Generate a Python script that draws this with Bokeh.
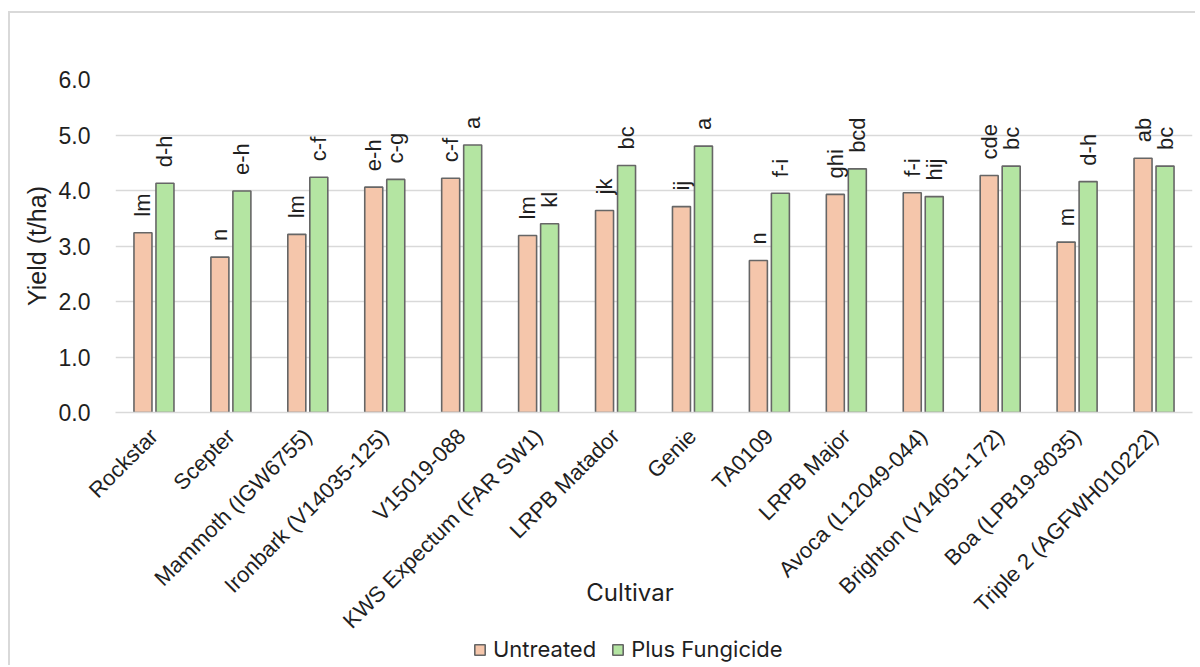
from bokeh.plotting import figure
from bokeh.layouts import column
from bokeh.models import ColumnDataSource, FactorRange, Range1d, LabelSet, Legend, LegendItem, FixedTicker, CustomJSTickFormatter
from bokeh.transform import dodge
from bokeh.core.properties import value
from bokeh.embed import file_html
from bokeh.resources import INLINE
from math import pi

cultivars = ["Rockstar", "Scepter", "Mammoth (IGW6755)", "Ironbark (V14035-125)", "V15019-088",
             "KWS Expectum (FAR SW1)", "LRPB Matador", "Genie", "TA0109", "LRPB Major",
             "Avoca (L12049-044)", "Brighton (V14051-172)", "Boa (LPB19-8035)", "Triple 2 (AGFWH010222)"]
untreated = [3.24, 2.80, 3.21, 4.06, 4.22, 3.19, 3.64, 3.71, 2.74, 3.93, 3.96, 4.27, 3.07, 4.58]
fungicide = [4.13, 3.99, 4.24, 4.20, 4.82, 3.40, 4.45, 4.80, 3.95, 4.39, 3.89, 4.44, 4.16, 4.44]
untreated_letters = ["lm", "n", "lm", "e-h", "c-f", "lm", "jk", "ij", "n", "ghi", "f-i", "cde", "m", "ab"]
fungicide_letters = ["d-h", "e-h", "c-f", "c-g", "a", "kl", "bc", "a", "f-i", "bcd", "hij", "bc", "d-h", "bc"]
series_names = ["Untreated", "Plus Fungicide"]
y_ticks = [0, 1, 2, 3, 4, 5, 6]

src = ColumnDataSource(dict(cultivar=cultivars, untreated=untreated, fungicide=fungicide,
                            ul=untreated_letters, fl=fungicide_letters))

FONT = "Liberation Sans"
TXT = "#1f1f1f"
ORANGE = "#F5C6AB"
GREEN = "#B4E5A2"
EDGE = "#666666"
BORDER = "2px solid #d9d9d9"

p = figure(x_range=FactorRange(*cultivars), y_range=Range1d(0, 6),
           width=1187, height=624, output_backend="svg", toolbar_location=None,
           min_border_left=105, min_border_top=66, min_border_right=5, min_border_bottom=225)
p.margin = (11, 0, 0, 8)
p.styles = {"border-left": BORDER, "border-top": BORDER}
p.outline_line_color = None
p.background_fill_color = "white"
p.border_fill_color = "white"

bw = 0.234
off = 0.143

r1 = p.vbar(x=dodge("cultivar", -off, range=p.x_range), top="untreated", width=bw, source=src,
            fill_color=ORANGE, line_color=EDGE, line_width=1.6)
r2 = p.vbar(x=dodge("cultivar", off, range=p.x_range), top="fungicide", width=bw, source=src,
            fill_color=GREEN, line_color=EDGE, line_width=1.6)

for fld, o, col in (("ul", -off, "untreated"), ("fl", off, "fungicide")):
    ls = LabelSet(x=dodge("cultivar", o, range=p.x_range), y=col,
                  text=fld, source=src, angle=pi / 2, text_align="left", text_baseline="middle",
                  y_offset=16, text_font=value(FONT), text_font_size="22px", text_color=TXT)
    p.add_layout(ls)

# y axis
p.yaxis.ticker = FixedTicker(ticks=y_ticks)
p.yaxis.formatter = CustomJSTickFormatter(code="return tick.toFixed(1);")
p.yaxis.axis_line_color = None
p.yaxis.major_tick_line_color = None
p.yaxis.minor_tick_line_color = None
p.yaxis.major_label_standoff = 19
p.yaxis.major_label_text_font = FONT
p.yaxis.major_label_text_font_size = "23px"
p.yaxis.major_label_text_color = TXT
p.yaxis.axis_label = "Yield (t/ha)"
p.yaxis.axis_label_text_font = FONT
p.yaxis.axis_label_text_font_size = "25px"
p.yaxis.axis_label_text_font_style = "normal"
p.yaxis.axis_label_text_color = TXT
p.yaxis.axis_label_standoff = 5

# x axis
p.xaxis.axis_line_color = "#d9d9d9"
p.xaxis.axis_line_width = 1.5
p.xaxis.major_tick_line_color = None
p.xaxis.minor_tick_line_color = None
p.xaxis.major_label_orientation = pi / 4
p.xaxis.major_label_overrides = {c: c + "\u2002\u2002" for c in cultivars}
p.xaxis.major_label_text_font = FONT
p.xaxis.major_label_text_font_size = "22px"
p.xaxis.major_label_text_color = TXT
p.xaxis.major_label_standoff = 14
p.xaxis.axis_label = "Cultivar\u2003\u2003"
p.xaxis.axis_label_text_font = "Inter"
p.xaxis.axis_label_text_font_size = "24px"
p.xaxis.axis_label_text_font_style = "normal"
p.xaxis.axis_label_text_color = TXT
p.xaxis.axis_label_standoff = -67

p.xgrid.grid_line_color = None
p.ygrid.grid_line_color = "#d9d9d9"
p.ygrid.grid_line_width = 1.5

# legend strip below the chart
p2 = figure(x_range=Range1d(0, 1), y_range=Range1d(0, 1), width=1187, height=30,
            output_backend="svg", toolbar_location=None, x_axis_type=None, y_axis_type=None,
            min_border=0, min_border_left=0, min_border_right=0, min_border_top=0, min_border_bottom=0)
p2.margin = (0, 0, 0, 8)
p2.styles = {"border-left": BORDER}
p2.outline_line_color = None
p2.xgrid.grid_line_color = None
p2.ygrid.grid_line_color = None
p2.background_fill_color = "white"
p2.border_fill_color = "white"
g1 = p2.vbar(x=[0.5], top=[0.5], width=0.01, fill_color=ORANGE, line_color=EDGE, line_width=1.6)
g2 = p2.vbar(x=[0.5], top=[0.5], width=0.01, fill_color=GREEN, line_color=EDGE, line_width=1.6)
g1.visible = False
g2.visible = False
legend = Legend(items=[LegendItem(label=series_names[0], renderers=[g1]),
                       LegendItem(label=series_names[1], renderers=[g2])],
                orientation="horizontal", location=(358, 3),
                glyph_width=13, glyph_height=13, label_standoff=7, spacing=15,
                padding=0, margin=0, border_line_color=None, background_fill_alpha=0,
                label_text_font="Inter", label_text_font_size="22px", label_text_color=TXT)
p2.add_layout(legend, "center")

layout = column(p, p2, spacing=0)
open("out.html", "w").write(file_html(layout, INLINE))
